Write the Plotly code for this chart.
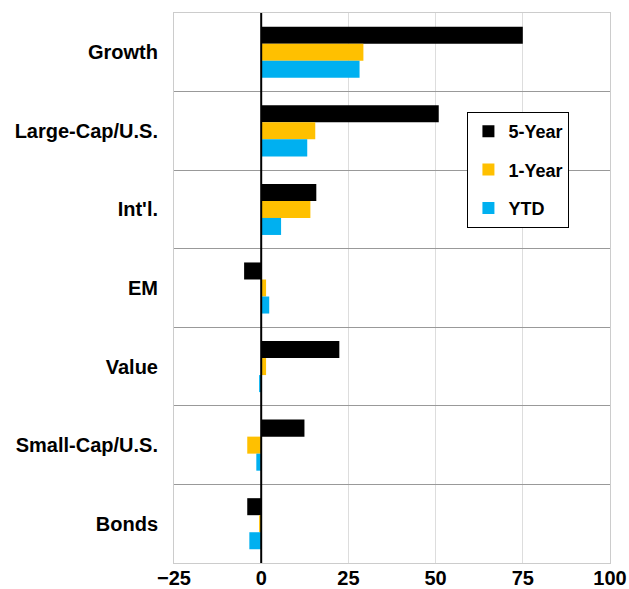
import plotly.graph_objects as go

categories = ["Growth", "Large-Cap/U.S.", "Int'l.", "EM", "Value", "Small-Cap/U.S.", "Bonds"]
five_year = [75.0, 50.9, 15.8, -4.9, 22.4, 12.4, -4.0]
one_year = [29.3, 15.5, 14.1, 1.4, 1.4, -4.0, -0.6]
ytd = [28.2, 13.2, 5.7, 2.3, -0.6, -1.4, -3.4]
x_ticks = [-25, 0, 25, 50, 75, 100]

series = [("5-Year", five_year, "#000000"), ("1-Year", one_year, "#FFC000"), ("YTD", ytd, "#00B0F0")]

fig = go.Figure()
for name, vals, color in series:
    fig.add_trace(go.Bar(
        y=categories, x=vals, name=name, orientation="h",
        marker=dict(color=color, line=dict(width=0)),
        legendgroup=name,
    ))

font_family = "Liberation Sans, Arial, sans-serif"
fig.update_layout(
    width=629, height=589,
    margin=dict(l=174, r=19, t=13, b=26),
    barmode="group", bargap=0.35, bargroupgap=0,
    plot_bgcolor="white", paper_bgcolor="white",
    font=dict(family=font_family, size=20, color="black", weight=700),
    xaxis=dict(
        range=[-25, 100], tickvals=x_ticks, showgrid=True, gridcolor="#dddddd", gridwidth=1,
        zeroline=False, showline=True, linecolor="#cccccc", mirror=True, linewidth=1,
        ticks="", tickfont=dict(size=20, weight=700), automargin=False, ticklabelstandoff=-3,
    ),
    yaxis=dict(
        autorange="reversed", tickson="boundaries", showgrid=True, gridcolor="#999999", gridwidth=1,
        showline=True, linecolor="#cccccc", mirror=True, linewidth=1, ticks="",
        tickfont=dict(size=20, weight=700), ticklabelstandoff=11, automargin=False,
    ),
    legend=dict(
        x=0.673, y=0.82, xanchor="left", yanchor="top",
        bgcolor="white", bordercolor="black", borderwidth=1,
        traceorder="grouped", tracegroupgap=12,
        font=dict(size=18, weight=700), itemwidth=30, entrywidth=92,
    ),
    shapes=[dict(type="line", xref="x", yref="paper", x0=0, x1=0, y0=0, y1=1,
                 line=dict(color="black", width=2), layer="above")],
)

fig.write_html("out.html", config={"displayModeBar": False},
               post_script="document.body.style.margin='0';document.body.style.overflow='hidden';")
